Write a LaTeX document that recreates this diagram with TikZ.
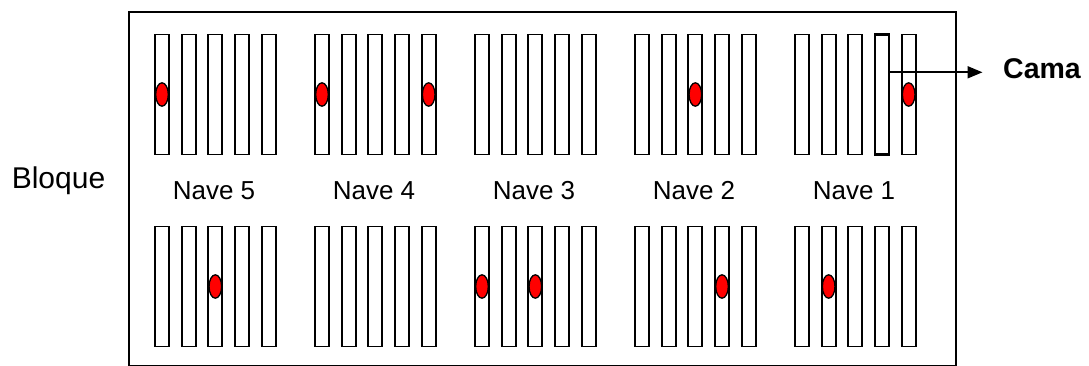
\documentclass[tikz,border=0pt]{standalone}
\usepackage{fontspec}
\setmainfont{Liberation Sans}
\usetikzlibrary{arrows.meta,shapes.geometric}
\begin{document}
\begin{tikzpicture}[x=1pt,y=-1pt,
  bedbox/.style={draw=black,line width=1.8pt,minimum width=14pt,minimum height=120pt,inner sep=0pt,outer sep=0pt},
  thickbed/.style={bedbox,line width=2.8pt},
  dot/.style={draw=black,line width=1.3pt,fill=red,ellipse,minimum width=12.6pt,minimum height=23.4pt,inner sep=0pt},
  lbl/.style={font=\fontsize{26pt}{28pt}\selectfont,inner sep=0pt,anchor=base},
  framebox/.style={draw=black,line width=1.8pt},
  pointer/.style={draw=black,line width=1.8pt,-{Triangle[length=15pt,width=12pt]}}]
\useasboundingbox (0,0) rectangle (1089,366);
\node[framebox,minimum width=827pt,minimum height=354pt,inner sep=0pt,anchor=north west] (frame) at (128,11) {};
% beds
\foreach \g in {0,...,4}{
  \foreach \b in {0,...,4}{
    \pgfmathsetmacro{\xx}{162+160*\g+26.67*\b}
    \ifnum\g=4 \ifnum\b=3
      \node[thickbed] (t\g\b) at (\xx,94.5) {};
    \else
      \node[bedbox] (t\g\b) at (\xx,94.5) {};
    \fi\else
      \node[bedbox] (t\g\b) at (\xx,94.5) {};
    \fi
    \node[bedbox] (u\g\b) at (\xx,286.5) {};
  }
}
% nave labels
\foreach \g/\n in {0/5,1/4,2/3,3/2,4/1}{
  \node[lbl] (nave\n) at (214+160*\g,200) {Nave \n};
}
\node[lbl,font=\fontsize{30pt}{32pt}\selectfont] (bloque) at (58.5,188.3) {Bloque};
% red dots, top row
\foreach \g/\b in {0/0,1/0,1/4,3/2,4/4}{
  \node[dot] (dt\g\b) at (t\g\b) {};
}
% red dots, bottom row
\foreach \g/\b in {0/2,2/0,2/2,3/3,4/1}{
  \node[dot] (du\g\b) at (u\g\b) {};
}
% cama
\node[font=\bfseries\fontsize{28.5pt}{31pt}\selectfont,inner sep=0pt,anchor=base west] (cama) at (1003,78.3) {Cama};
\coordinate (camatip) at (982.5,72.3);
\draw[pointer] (t43.east |- camatip) -- (camatip);
\end{tikzpicture}
\end{document}
